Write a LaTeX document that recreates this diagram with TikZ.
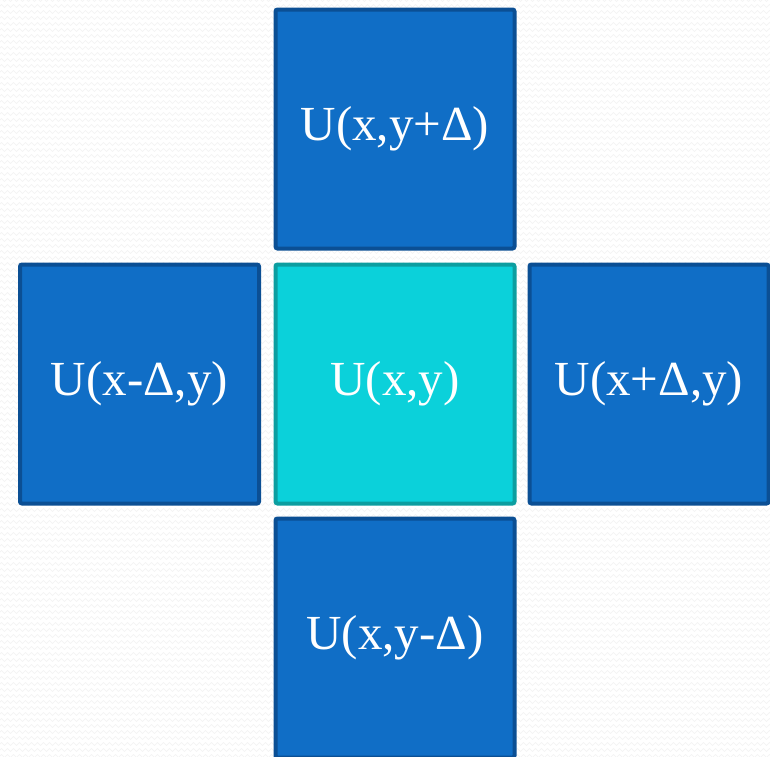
\documentclass[tikz,border=0pt]{standalone}
\usepackage{fontspec}
\setmainfont{Liberation Serif}
\usetikzlibrary{decorations.pathmorphing}
\definecolor{boxblue}{HTML}{106EC6}
\definecolor{boxblueedge}{HTML}{0B4F94}
\definecolor{boxcyan}{HTML}{0BD1DA}
\definecolor{boxcyanedge}{HTML}{0C9EA0}
\definecolor{bgzig}{HTML}{F2F2F2}
\tikzset{
  cell/.style={draw=boxblueedge, fill=boxblue, line width=4pt, rounded corners=2pt,
    minimum width=239pt, minimum height=239pt, inner sep=0pt, text=white,
    font=\fontsize{49}{54}\selectfont},
  centercell/.style={cell, draw=boxcyanedge, fill=boxcyan},
  zig/.style={draw=bgzig, line width=0.6pt, decorate,
    decoration={zigzag, segment length=6pt, amplitude=1.5pt}}
}
\begin{document}
\begin{tikzpicture}[x=1pt,y=-1pt]
\useasboundingbox (0,0) rectangle (770,756);
\clip (0,0) rectangle (770,756);
\fill[white] (0,0) rectangle (770,756);
\foreach \r in {0,6,...,756} {
  \path[zig] (-6,\r) -- (776,\r);
}
\node[cell] (top) at (395,129) {U(x,y+Δ)};
\node[cell] (left) at (139.5,384) {U(x-Δ,y)};
\node[centercell] (mid) at (395,384) {U(x,y)};
\node[cell] (right) at (649,384) {U(x+Δ,y)};
\node[cell] (bot) at (395,638) {U(x,y-Δ)};
\end{tikzpicture}
\end{document}
